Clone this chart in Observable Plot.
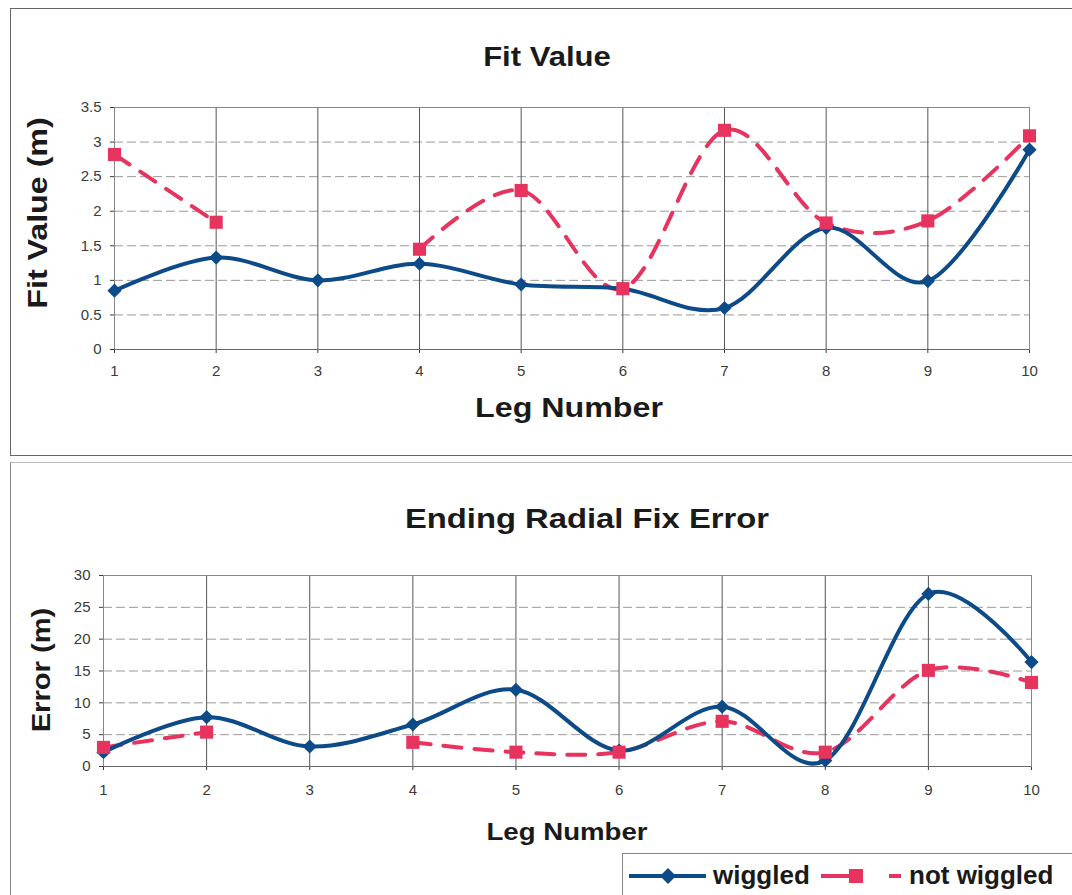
<!DOCTYPE html>
<html>
<head>
<meta charset="utf-8">
<script src="https://cdn.jsdelivr.net/npm/d3@7"></script>
<script src="https://cdn.jsdelivr.net/npm/@observablehq/plot@0.6"></script>
<style>
  html, body { margin: 0; padding: 0; background: #fff; }
  #root { position: relative; width: 1072px; height: 895px; overflow: hidden; font-family: "Liberation Sans", Arial, sans-serif; }
  .panel { position: absolute; box-sizing: border-box; }
  .lbl { position: absolute; white-space: nowrap; font-weight: bold; color: #1a1a1a; line-height: 1; }
  .chart { position: absolute; left: 0; }
  .legend { position: absolute; left: 622px; top: 853px; width: 460px; height: 60px; border: 1px solid #888; box-sizing: border-box; background: #fff; }
  .legend span { position: absolute; top: 8px; font-size: 26px; font-weight: bold; color: #1a1a1a; line-height: 1; }
</style>
</head>
<body>
<div id="root">
  <div class="panel" style="left:10px;top:8px;width:1080px;height:448px;border:1px solid #666;"></div>
  <div class="panel" style="left:10px;top:462px;width:1080px;height:460px;border-top:1px solid #bbb;border-left:1px solid #888;"></div>
</div>
<script>
// ---- data ----
const legs = [1, 2, 3, 4, 5, 6, 7, 8, 9, 10];
const fitWiggled    = [0.85, 1.33, 1.00, 1.24, 0.94, 0.88, 0.60, 1.76, 0.99, 2.89];
const fitNotWiggled = [2.82, 1.84, null, 1.45, 2.30, 0.88, 3.17, 1.83, 1.86, 3.09];
const errWiggled    = [2.25, 7.75, 3.14, 6.6, 12.05, 2.5, 9.4, 0.94, 27.1, 16.4];
const errNotWiggled = [3.0, 5.4, null, 3.8, 2.25, 2.25, 7.1, 2.25, 15.1, 13.2];
const fitTicks = [0, 0.5, 1, 1.5, 2, 2.5, 3, 3.5];
const errTicks = [0, 5, 10, 15, 20, 25, 30];
const seriesNames = ["wiggled", "not wiggled"];
const titles = ["Fit Value", "Ending Radial Fix Error"];
const yLabels = ["Fit Value (m)", "Error (m)"];
const xLabel = "Leg Number";

const BLUE = "#0d4a88";
const RED = "#e6345f";

function makeChart(wig, notw, ticks, opts) {
  const rows = legs.map((leg, i) => ({leg, wiggled: wig[i], notWiggled: notw[i]}));
  return Plot.plot({
    width: 1072,
    height: opts.height,
    marginLeft: opts.marginLeft,
    marginRight: opts.marginRight,
    marginTop: opts.marginTop,
    marginBottom: opts.marginBottom,
    style: {fontFamily: '"Liberation Sans", Arial, sans-serif', fontSize: "15px", color: "#3a3a3a", background: "none", overflow: "visible"},
    x: {domain: [1, 10], ticks: legs, tickFormat: d => String(d), tickSize: 4, tickPadding: opts.xPad, label: null},
    y: {domain: [0, ticks[ticks.length - 1]], ticks: ticks, tickFormat: d => String(d), tickSize: 4, tickPadding: 9, label: null},
    marks: [
      Plot.ruleY(ticks.filter(t => t > 0), {stroke: "#999", strokeDasharray: "9,4", strokeWidth: 1}),
      Plot.ruleX(legs, {stroke: "#555", strokeWidth: 1}),
      Plot.frame({stroke: "#888"}),
      Plot.ruleY([0], {stroke: "#666"}),
      Plot.line(rows, {x: "leg", y: "notWiggled", stroke: RED, strokeWidth: 4, strokeDasharray: "18,13", curve: "cardinal", tension: 0}),
      Plot.line(rows, {x: "leg", y: "wiggled", stroke: BLUE, strokeWidth: 4, curve: "cardinal", tension: 0}),
      Plot.dot(rows, {x: "leg", y: "wiggled", symbol: "diamond2", r: 6.4, fill: BLUE, stroke: null}),
      Plot.dot(rows, {x: "leg", y: "notWiggled", symbol: "square", r: 7.4, fill: RED, stroke: null})
    ]
  });
}

const root = document.getElementById("root");

function place(el, top) {
  el.classList.add("chart");
  el.style.top = top + "px";
  root.appendChild(el);
}

place(makeChart(fitWiggled, fitNotWiggled, fitTicks,
  {height: 300, marginLeft: 114, marginRight: 43, marginTop: 17, marginBottom: 41, xPad: 12}), 90);
place(makeChart(errWiggled, errNotWiggled, errTicks,
  {height: 240, marginLeft: 103, marginRight: 41, marginTop: 15, marginBottom: 34, xPad: 14}), 560);

function label(text, x, y, size, rotate, scale) {
  const d = document.createElement("div");
  d.className = "lbl";
  d.textContent = text;
  d.style.left = x + "px";
  d.style.top = y + "px";
  d.style.fontSize = size + "px";
  d.style.transform = `translate(-50%,-50%) rotate(${rotate}deg) scaleX(${scale})`;
  root.appendChild(d);
}

label(titles[0], 547, 57, 27, 0, 1.15);
label(yLabels[0], 38, 213, 28, -90, 1.15);
label(xLabel, 569, 408, 28, 0, 1.15);
label(titles[1], 587, 519, 28, 0, 1.17);
label(yLabels[1], 41, 670, 26, -90, 1.12);
label(xLabel, 567, 832, 24, 0, 1.15);

// legend
const lg = document.createElement("div");
lg.className = "legend";
lg.innerHTML = `
<svg width="460" height="60" style="position:absolute;left:0;top:0">
  <line x1="6" y1="22" x2="83" y2="22" stroke="${BLUE}" stroke-width="4"/>
  <path d="M45,14 L53,22 L45,30 L37,22 Z" fill="${BLUE}"/>
  <line x1="198" y1="22" x2="230" y2="22" stroke="${RED}" stroke-width="4"/>
  <rect x="226" y="15" width="14" height="14" fill="${RED}"/>
  <line x1="266" y1="22" x2="278" y2="22" stroke="${RED}" stroke-width="4"/>
</svg>
<span style="left:90px">${seriesNames[0]}</span>
<span style="left:286px">${seriesNames[1]}</span>`;
root.appendChild(lg);
</script>
</body>
</html>
